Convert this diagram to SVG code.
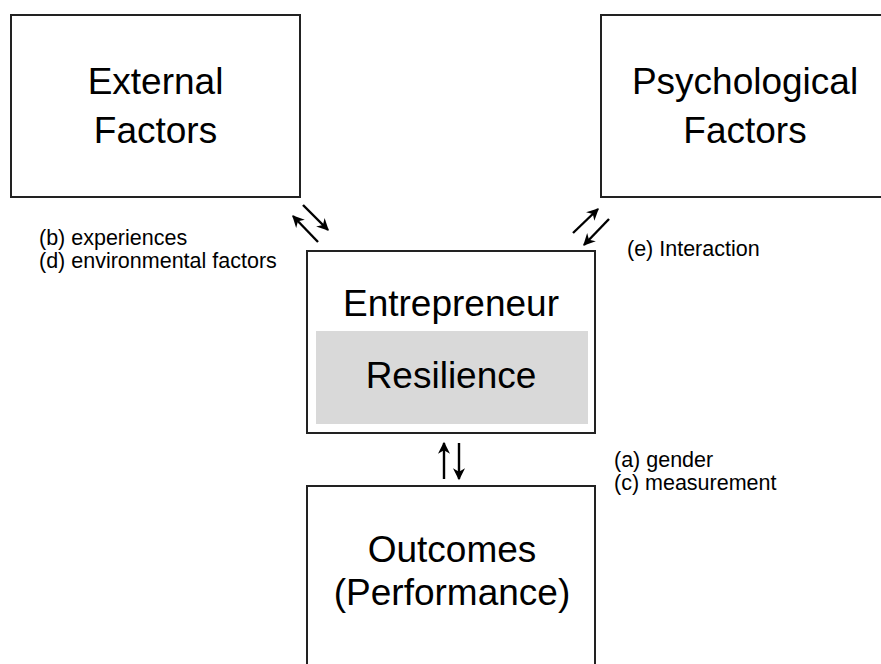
<svg xmlns="http://www.w3.org/2000/svg" width="881" height="664" viewBox="0 0 881 664">
  <defs>
    <style>
      .box { fill: #ffffff; stroke: #222222; stroke-width: 2; }
      .inner { fill: #d9d9d9; stroke: none; }
      .big { font-family: "Liberation Sans", Arial, sans-serif; font-size: 37px; fill: #000000; text-anchor: middle; }
      .small { font-family: "Liberation Sans", Arial, sans-serif; font-size: 21.5px; fill: #000000; }
      .link { stroke: #000000; stroke-width: 2.4; fill: none; marker-end: url(#head); }
    </style>
    <marker id="head" viewBox="0 0 12 12" refX="10" refY="6" markerWidth="6" markerHeight="6" markerUnits="strokeWidth" orient="auto">
      <path d="M1,1 L11,6 L1,11 L4,6 Z" fill="#000000"/>
    </marker>
  </defs>

  <rect width="881" height="664" fill="#ffffff"/>

  <g id="external-factors">
    <rect class="box" x="11" y="15" width="289" height="182"/>
    <text class="big" x="155.5" y="94">External</text>
    <text class="big" x="155.5" y="143">Factors</text>
  </g>

  <g id="psychological-factors">
    <rect class="box" x="601" y="15" width="290" height="182"/>
    <text class="big" x="745" y="94">Psychological</text>
    <text class="big" x="745" y="143">Factors</text>
  </g>

  <g id="entrepreneur">
    <rect class="box" x="307" y="251" width="288" height="182"/>
    <rect class="inner" x="316" y="331" width="272" height="93"/>
    <text class="big" x="451" y="316">Entrepreneur</text>
    <text class="big" x="451" y="388">Resilience</text>
  </g>

  <g id="outcomes">
    <rect class="box" x="307" y="486" width="288" height="200"/>
    <text class="big" x="452" y="562">Outcomes</text>
    <text class="big" x="452" y="605">(Performance)</text>
  </g>

  <g id="connectors">
    <!-- external factors <-> entrepreneur -->
    <line class="link" x1="318" y1="242" x2="293" y2="216"/>
    <line class="link" x1="303" y1="205" x2="328" y2="230"/>
    <!-- psychological factors <-> entrepreneur -->
    <line class="link" x1="573" y1="233" x2="598" y2="209"/>
    <line class="link" x1="609" y1="219" x2="584" y2="245"/>
    <!-- entrepreneur <-> outcomes -->
    <line class="link" x1="444" y1="479" x2="444" y2="443"/>
    <line class="link" x1="459" y1="443" x2="459" y2="479"/>
  </g>

  <g id="labels">
    <text class="small" x="39" y="245">(b) experiences</text>
    <text class="small" x="39" y="268">(d) environmental factors</text>
    <text class="small" x="627" y="256">(e) Interaction</text>
    <text class="small" x="614" y="467">(a) gender</text>
    <text class="small" x="614" y="490">(c) measurement</text>
  </g>
</svg>
